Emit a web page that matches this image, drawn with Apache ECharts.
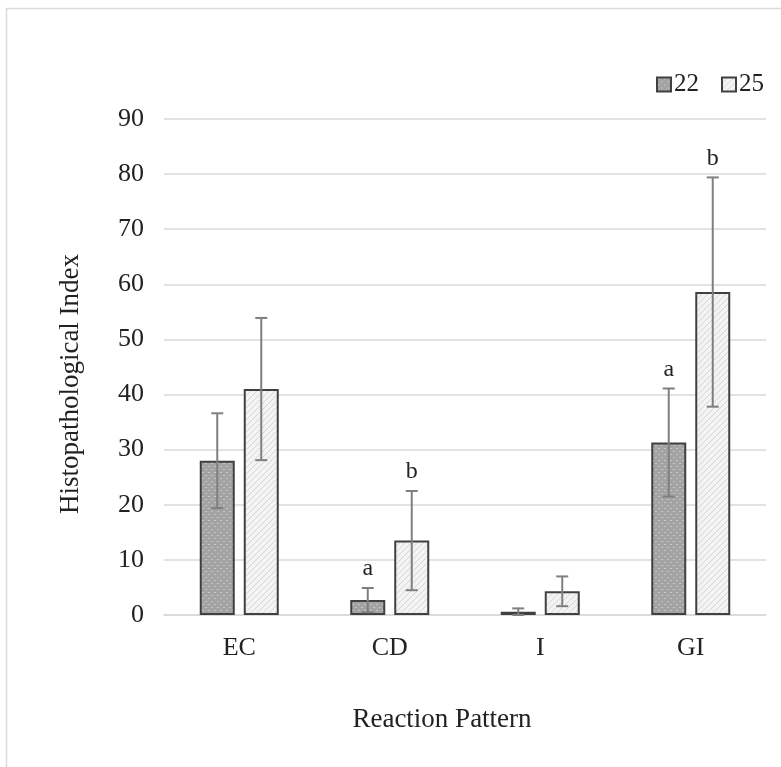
<!DOCTYPE html>
<html><head><meta charset="utf-8">
<script src="https://cdn.jsdelivr.net/npm/echarts@6/dist/echarts.min.js"></script>
<style>html,body{margin:0;padding:0;background:#fff}#c{width:781px;height:767px}</style>
</head><body><div id="c"></div>
<script>
const categories = ['EC', 'CD', 'I', 'GI'];
const seriesNames = ['22', '25'];
const values22 = [28, 2.7, 0.6, 31.3];
const values25 = [41, 13.5, 4.3, 58.6];
const err22 = [8.6, 2.2, 0.6, 9.8];
const err25 = [12.9, 9.0, 2.7, 20.8];
const letters22 = ['', 'a', '', 'a'];
const letters25 = ['', 'b', '', 'b'];
const yTicks = [0, 90, 10];

function dotPattern() {
  const c = document.createElement('canvas'); c.width = 6; c.height = 6;
  const g = c.getContext('2d');
  g.fillStyle = '#a3a3a3'; g.fillRect(0, 0, 6, 6);
  g.fillStyle = '#c4c4c4'; g.fillRect(1, 1, 2, 1); g.fillRect(4, 4, 2, 1);
  return c;
}
function hatchPattern() {
  const c = document.createElement('canvas'); c.width = 6; c.height = 6;
  const g = c.getContext('2d');
  g.fillStyle = '#f3f3f3'; g.fillRect(0, 0, 6, 6);
  g.strokeStyle = '#d6d6d6'; g.lineWidth = 1;
  g.beginPath(); g.moveTo(0, 6); g.lineTo(6, 0); g.moveTo(-3, 3); g.lineTo(3, -3); g.moveTo(3, 9); g.lineTo(9, 3); g.stroke();
  return c;
}
const fills = [{ image: dotPattern(), repeat: 'repeat' }, { image: hatchPattern(), repeat: 'repeat' }];

const BAR_W = 35, GAP = 9;
const font = '"Liberation Serif", "Times New Roman", serif';

function errSeries(vals, errs, letters, dir) {
  return {
    type: 'custom', z: 5, silent: true,
    data: categories.map((c, i) => [i, vals[i], errs[i]]),
    renderItem: function (params, api) {
      const i = api.value(0), v = api.value(1), e = api.value(2);
      const letter = letters[params.dataIndex];
      const off = dir * (BAR_W + GAP) / 2;
      const top = api.coord([i, v + e]);
      const bot = api.coord([i, Math.max(v - e, 0)]);
      const x = top[0] + off;
      const cap = 6;
      const st = { stroke: '#7f7f7f', lineWidth: 2 };
      const children = [
        { type: 'line', shape: { x1: x, y1: top[1], x2: x, y2: bot[1] }, style: st },
        { type: 'line', shape: { x1: x - cap, y1: top[1], x2: x + cap, y2: top[1] }, style: st },
        { type: 'line', shape: { x1: x - cap, y1: bot[1], x2: x + cap, y2: bot[1] }, style: st }
      ];
      if (letter) children.push({ type: 'text', style: { text: letter, x: x, y: top[1] - 7, align: 'center', verticalAlign: 'bottom', font: '24px ' + font, fill: '#222' } });
      return { type: 'group', children: children };
    }
  };
}

const chart = echarts.init(document.getElementById('c'));
chart.setOption({
  animation: false,
  backgroundColor: '#fff',
  graphic: [{ type: 'rect', shape: { x: 6.5, y: 8.5, width: 790, height: 770 }, style: { fill: 'none', stroke: '#d9d9d9', lineWidth: 1.5 }, z: -1 }],
  legend: {
    data: seriesNames, right: 12, top: 67, itemWidth: 14, itemHeight: 14, itemGap: 22, icon: 'rect',
    textStyle: { fontFamily: font, fontSize: 25, color: '#222', padding: [0, 0, 0, -2] },
    itemStyle: { borderColor: '#404040', borderWidth: 2 }
  },
  grid: { left: 164, right: 15, top: 119, bottom: 152 },
  xAxis: {
    type: 'category', data: categories,
    name: 'Reaction Pattern', nameLocation: 'middle', nameGap: 91,
    nameTextStyle: { fontFamily: font, fontSize: 27, color: '#222', padding: [0, 46, 0, 0] },
    axisLine: { lineStyle: { color: '#d9d9d9', width: 1.5 } }, axisTick: { show: false },
    axisLabel: { fontFamily: font, fontSize: 26, color: '#222', margin: 20 }
  },
  yAxis: {
    type: 'value', min: yTicks[0], max: yTicks[1], interval: yTicks[2],
    name: 'Histopathological Index', nameLocation: 'middle', nameGap: 80,
    nameTextStyle: { fontFamily: font, fontSize: 27, color: '#222', padding: [0, 34, 0, 0] },
    axisLine: { show: false }, axisTick: { show: false },
    splitLine: { lineStyle: { color: '#d9d9d9', width: 1.5 } },
    axisLabel: { fontFamily: font, fontSize: 26, color: '#222', margin: 20 }
  },
  series: [
    { name: seriesNames[0], type: 'bar', data: values22, barWidth: BAR_W, barGap: (GAP / BAR_W * 100) + '%',
      itemStyle: { color: fills[0], borderColor: '#404040', borderWidth: 2 } },
    { name: seriesNames[1], type: 'bar', data: values25, barWidth: BAR_W,
      itemStyle: { color: fills[1], borderColor: '#404040', borderWidth: 2 } },
    errSeries(values22, err22, letters22, -1),
    errSeries(values25, err25, letters25, 1)
  ]
});
</script></body></html>
